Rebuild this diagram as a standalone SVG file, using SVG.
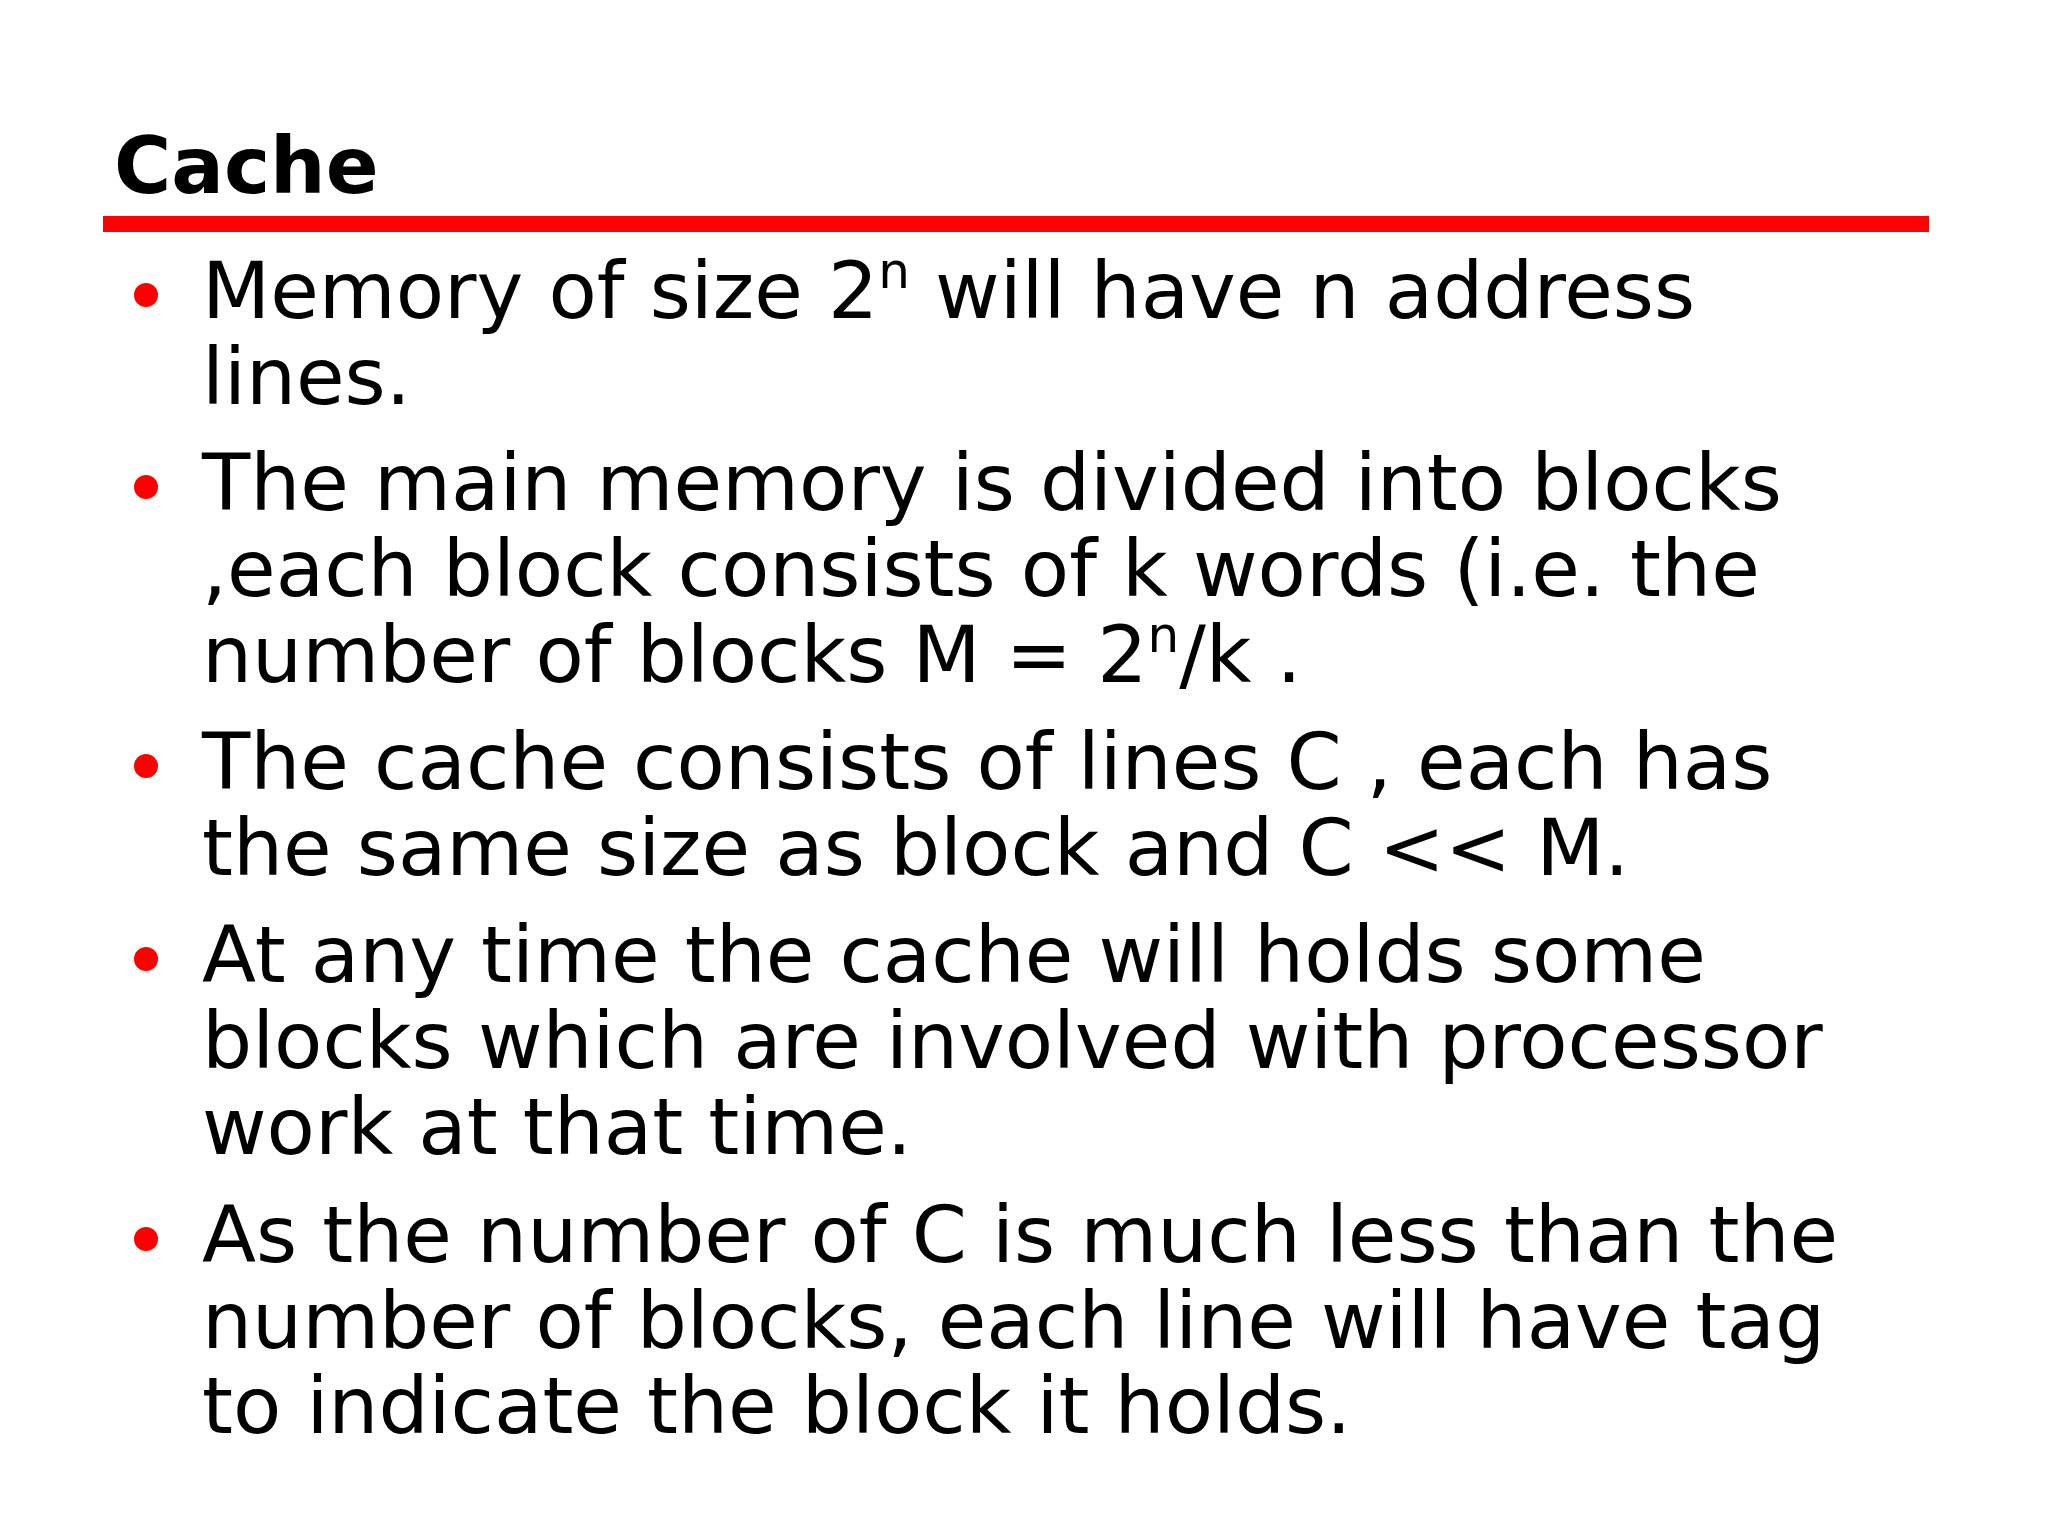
<svg xmlns="http://www.w3.org/2000/svg" width="2048" height="1536" viewBox="0 0 2048 1536">
<style>
.t{font-family:"DejaVu Sans","Noto Sans",sans-serif;font-size:79px;fill:#000}
.s{font-size:50px}
.d{fill:#f00}
</style>
<rect width="2048" height="1536" fill="#fff"/>
<g id="title"><text x="114" y="193" style="font-family:'DejaVu Sans',sans-serif;font-weight:bold;font-size:78px">Cache</text>
<rect x="103" y="216" width="1826" height="16" fill="#f00"/></g>
<g id="bullets">
<circle class="d" cx="146" cy="295" r="12"/><circle class="d" cx="146" cy="487" r="12"/><circle class="d" cx="146" cy="766" r="12"/><circle class="d" cx="146" cy="959" r="12"/><circle class="d" cx="146" cy="1239" r="12"/>
<text class="t" x="202" y="318">Memory of size 2<tspan class="s" dy="-30">n</tspan><tspan dy="30"> will have n address</tspan></text>
<text class="t" x="202" y="404">lines.</text>
<text class="t" x="202" y="510">The main memory is divided into blocks</text>
<text class="t" x="202" y="596">,each block consists of k words (i.e. the</text>
<text class="t" x="202" y="682">number of blocks M = 2<tspan class="s" dy="-30">n</tspan><tspan dy="30">/k .</tspan></text>
<text class="t" x="202" y="789">The cache consists of lines C , each has</text>
<text class="t" x="202" y="875">the same size as block and C &lt;&lt; M.</text>
<text class="t" x="202" y="982">At any time the cache will holds some</text>
<text class="t" x="202" y="1068">blocks which are involved with processor</text>
<text class="t" x="202" y="1154">work at that time.</text>
<text class="t" x="202" y="1262">As the number of C is much less than the</text>
<text class="t" x="202" y="1348">number of blocks, each line will have tag</text>
<text class="t" x="202" y="1433">to indicate the block it holds.</text>
</g>
</svg>
